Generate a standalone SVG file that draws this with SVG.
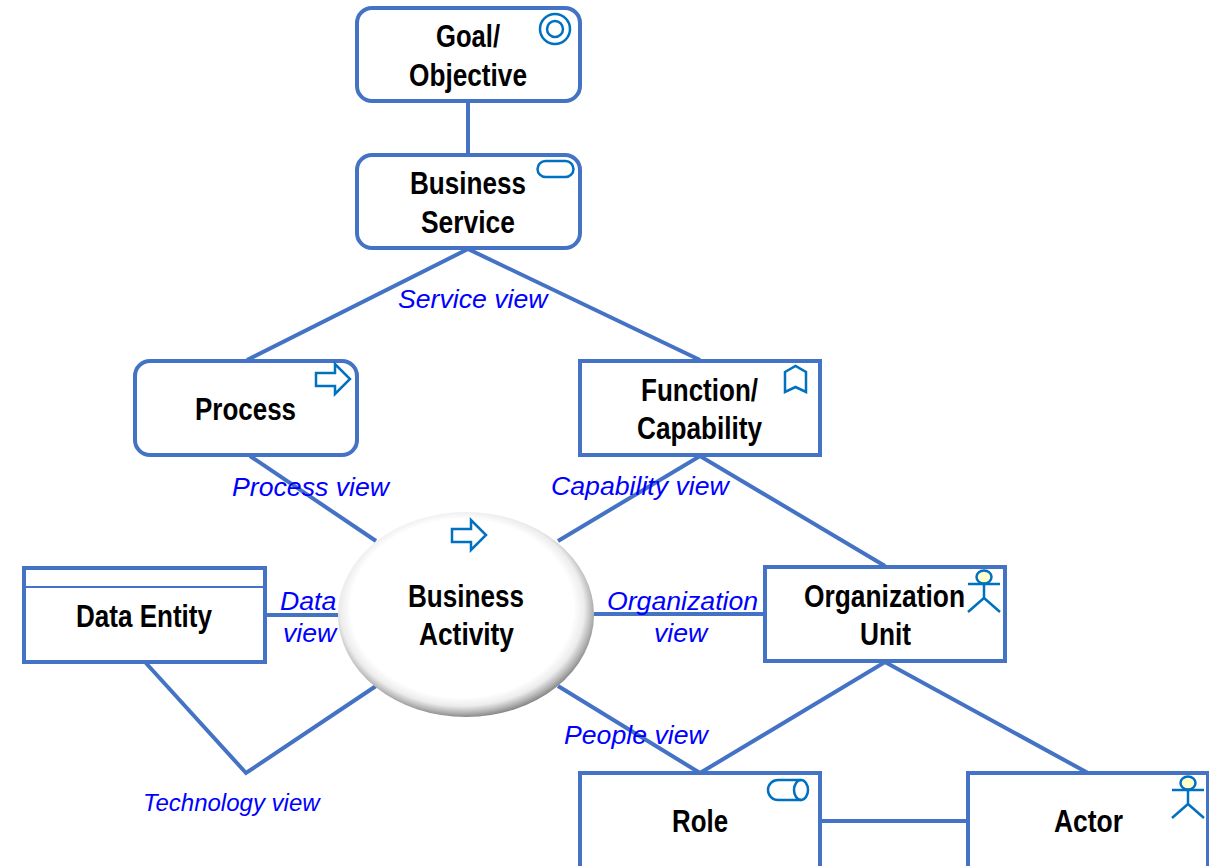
<svg xmlns="http://www.w3.org/2000/svg" xmlns:xlink="http://www.w3.org/1999/xlink" width="1209" height="866" viewBox="0 0 1209 866">
<style>
.box{fill:#fff;stroke:#4472C4;stroke-width:4}
.con{fill:none;stroke:#4472C4;stroke-width:4}
.ico{fill:none;stroke:#0070C0;stroke-width:2.5}
.t{font-family:"Liberation Sans",Arial,sans-serif;font-weight:700;font-size:32px;fill:#000}
.v{font-family:"Liberation Sans",Arial,sans-serif;font-style:italic;font-size:26.67px;fill:#0000FF}
</style>
<defs>
<radialGradient id="bevel" cx="0.485" cy="0.47" r="0.53">
<stop offset="0" stop-color="#fff"/>
<stop offset="0.82" stop-color="#fff"/>
<stop offset="0.9" stop-color="#ececec"/>
<stop offset="0.96" stop-color="#b5b5b5"/>
<stop offset="1" stop-color="#8a8a8a"/>
</radialGradient>
<path id="arrow" d="M0 9H19V0L34 15 19 30V22H0Z" class="ico"/>
<g id="actor" class="ico">
<ellipse cx="16" cy="10" rx="7.5" ry="6.5" fill="#FFFFCC"/>
<path d="M0 17H32M16 17V31M0 45 16 31 32 45"/>
</g>
</defs>
<g id="connectors">
<path class="con" d="M468 101V154"/>
<path class="con" d="M247 360 468 249 700 360"/>
<path class="con" d="M250 456 376 541"/>
<path class="con" d="M558 541 700 456 885 566"/>
<path class="con" d="M265 615H338"/>
<path class="con" d="M594 614H765"/>
<path class="con" d="M145 662 246 773 376 686"/>
<path class="con" d="M558 686 700 773"/>
<path class="con" d="M700 773 885 662 1088 773"/>
<path class="con" d="M820 821H968"/>
</g>
<g id="goal">
<rect class="box" x="357" y="8" width="223" height="93" rx="15"/>
<circle class="ico" cx="555" cy="29" r="15"/><circle class="ico" cx="555" cy="29" r="8"/>
<text class="t" x="436" y="47" textLength="64" lengthAdjust="spacingAndGlyphs">Goal/</text>
<text class="t" x="409" y="86" textLength="118" lengthAdjust="spacingAndGlyphs">Objective</text>
</g>
<g id="business-service">
<rect class="box" x="357" y="155" width="223" height="93" rx="15"/>
<rect class="ico" x="537.500" y="161" width="36" height="16" rx="8"/>
<text class="t" x="410" y="194" textLength="116" lengthAdjust="spacingAndGlyphs">Business</text>
<text class="t" x="421" y="233" textLength="94" lengthAdjust="spacingAndGlyphs">Service</text>
</g>
<g id="process">
<rect class="box" x="135" y="361" width="222" height="94" rx="15"/>
<use xlink:href="#arrow" href="#arrow" x="316" y="364"/>
<text class="t" x="195" y="420" textLength="101" lengthAdjust="spacingAndGlyphs">Process</text>
</g>
<g id="function">
<rect class="box" x="580" y="361" width="240" height="94"/>
<path class="ico" d="M785 372 795.500 366 806 372V392L795.500 387 785 392Z"/>
<text class="t" x="641" y="401" textLength="117" lengthAdjust="spacingAndGlyphs">Function/</text>
<text class="t" x="637" y="439" textLength="125" lengthAdjust="spacingAndGlyphs">Capability</text>
</g>
<g id="data-entity">
<rect class="box" x="24" y="568" width="241" height="94"/>
<path d="M24 587H265" fill="none" stroke="#4472C4" stroke-width="2"/>
<text class="t" x="76" y="627" textLength="136" lengthAdjust="spacingAndGlyphs">Data Entity</text>
</g>
<g id="business-activity">
<ellipse cx="466" cy="614.500" rx="128" ry="102.500" fill="url(#bevel)"/>
<use xlink:href="#arrow" href="#arrow" x="452" y="520"/>
<text class="t" x="408" y="607" textLength="116" lengthAdjust="spacingAndGlyphs">Business</text>
<text class="t" x="419" y="645" textLength="95" lengthAdjust="spacingAndGlyphs">Activity</text>
</g>
<g id="organization-unit">
<rect class="box" x="765" y="567" width="240" height="94"/>
<use xlink:href="#actor" href="#actor" x="968" y="567"/>
<text class="t" x="804" y="607" textLength="161" lengthAdjust="spacingAndGlyphs">Organization</text>
<text class="t" x="860" y="645" textLength="51" lengthAdjust="spacingAndGlyphs">Unit</text>
</g>
<g id="role">
<rect class="box" x="580" y="773" width="240" height="100"/>
<path class="ico" d="M801 780H778A10 10 0 0 0 778 800H801"/><ellipse class="ico" cx="801" cy="790" rx="7" ry="10"/>
<text class="t" x="672" y="832" textLength="56" lengthAdjust="spacingAndGlyphs">Role</text>
</g>
<g id="actor-node">
<rect class="box" x="968" y="773" width="240" height="100"/>
<use xlink:href="#actor" href="#actor" x="1172" y="773"/>
<text class="t" x="1054" y="832" textLength="69" lengthAdjust="spacingAndGlyphs">Actor</text>
</g>
<g id="labels">
<text class="v" x="398" y="308">Service view</text>
<text class="v" x="232" y="496">Process view</text>
<text class="v" x="551" y="495">Capability view</text>
<text class="v" x="280" y="610">Data</text>
<text class="v" x="283" y="642">view</text>
<text class="v" x="607" y="610">Organization</text>
<text class="v" x="654" y="642">view</text>
<text class="v" x="564" y="744">People view</text>
<text class="v" x="143" y="811" style="font-size:24px">Technology view</text>
</g>
</svg>
